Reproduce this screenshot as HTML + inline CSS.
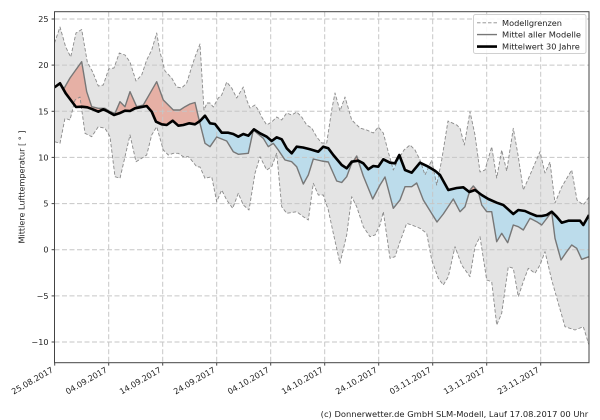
<!DOCTYPE html>
<html><head><meta charset="utf-8"><style>
html,body{margin:0;padding:0;background:#fff;}
svg{display:block;}
text{font-family:"DejaVu Sans","Liberation Sans",sans-serif;fill:#222;}
</style></head><body>
<svg width="600" height="420" viewBox="0 0 600 420" xmlns="http://www.w3.org/2000/svg">
<defs>
<clipPath id="ax"><rect x="54.5" y="11.7" width="534.5" height="351"/></clipPath>
<clipPath id="aboveL"><polygon points="54.5,0 54.5,141.7 60,143.3 65,118.3 70,120 75,100 80,97 85,133.3 91.7,136.7 98.3,126.7 105,128.3 110,136.7 115,176.7 120,178.3 125,156.7 130,135 136,161.7 141.7,158.3 146.7,155 151.7,135 156.7,126.7 163.3,150 168.3,155 173.3,153.3 178.3,153.3 183.3,156.7 188.3,156.7 190,158.3 196.7,166.7 200,167 205,178.3 211.7,176.7 216.7,201.7 221.7,190 226.7,200 232.7,208.3 238.3,193.3 243.3,205 249,210 255,173.3 260,156.7 266.7,170 271.7,166.7 276.7,153.3 281.7,206.7 286.7,213.3 296.7,211.7 303.3,216.7 308.3,220 313.3,183.3 318.3,195 323.3,195 328.3,210 333.3,233.3 340,263.3 346.7,235 351.7,196.7 356.7,206.7 363.3,226.7 370,236.7 375,235 380,225 383.3,211.7 390,258.3 395,256.7 400,241.7 406.7,223.3 411.7,225 420,228.3 426.7,233.3 431.7,260 438.3,278.3 443.3,285 448.3,276.7 455,246.7 461.7,265 470,276.7 475,246.7 480,236.7 486.7,280 491.7,281.7 496.7,325 501.7,313.3 508.3,266.7 513.3,268.3 518.3,296.7 523.3,281.7 528.3,268.3 535,273.3 540,265 545,251.7 551.7,280 558.3,303.3 565,326.7 575,330 583.3,326.7 589,345 589,0"/></clipPath>
<clipPath id="aboveB"><polygon points="54.5,0 54.5,87.3 60,83.3 65.7,93.3 70.7,100 76,107 81.7,106.7 87.3,107.3 92.7,109.3 98.3,111.7 103.3,109.3 108.3,111.7 114,115 119.3,113.3 125,110.7 130,111 135,108.3 140,107.3 146.7,106 151.7,111.7 156,121.7 161.7,124.3 166.7,125 172.7,120.7 178.3,125.7 183.3,125 189.3,123.3 195,124.3 200,121 205,115.7 210,123.3 215,124 221.7,132.7 228.3,132.7 233.3,134 238.3,136.7 243.3,134 248.3,135.7 254,129.3 260,133.3 266.7,136.7 271.7,141 276.7,137.3 281.7,139.3 286.7,148.3 291.7,153.3 296.7,146.7 303,147.5 310,149.3 318.3,151.7 323.3,146.7 328.3,148.3 333.3,155 341.7,165 346.7,168.3 351.7,161.7 358.3,160.7 363.3,163.3 368.3,169.3 373.3,166 378.3,166.7 383.3,159.3 390,162.7 395,163.3 399.3,155 405,170 411.7,172.7 420,162.7 428.3,166.7 435,170.7 440,175 448.3,190 456.7,188 463.3,187.3 469.3,192 475,190 481.7,195 488.3,199 496.7,202.7 503.3,205 507,208.3 513.3,214 518.3,210 525,211 530,213.3 536.7,216 541.7,216 546.7,215 551.7,211.7 556.7,216.7 561.7,222.7 568.3,220.7 575,220.7 580,220.7 583.3,225 589,215 589,0"/></clipPath>
<clipPath id="belowB"><polygon points="54.5,87.3 60,83.3 65.7,93.3 70.7,100 76,107 81.7,106.7 87.3,107.3 92.7,109.3 98.3,111.7 103.3,109.3 108.3,111.7 114,115 119.3,113.3 125,110.7 130,111 135,108.3 140,107.3 146.7,106 151.7,111.7 156,121.7 161.7,124.3 166.7,125 172.7,120.7 178.3,125.7 183.3,125 189.3,123.3 195,124.3 200,121 205,115.7 210,123.3 215,124 221.7,132.7 228.3,132.7 233.3,134 238.3,136.7 243.3,134 248.3,135.7 254,129.3 260,133.3 266.7,136.7 271.7,141 276.7,137.3 281.7,139.3 286.7,148.3 291.7,153.3 296.7,146.7 303,147.5 310,149.3 318.3,151.7 323.3,146.7 328.3,148.3 333.3,155 341.7,165 346.7,168.3 351.7,161.7 358.3,160.7 363.3,163.3 368.3,169.3 373.3,166 378.3,166.7 383.3,159.3 390,162.7 395,163.3 399.3,155 405,170 411.7,172.7 420,162.7 428.3,166.7 435,170.7 440,175 448.3,190 456.7,188 463.3,187.3 469.3,192 475,190 481.7,195 488.3,199 496.7,202.7 503.3,205 507,208.3 513.3,214 518.3,210 525,211 530,213.3 536.7,216 541.7,216 546.7,215 551.7,211.7 556.7,216.7 561.7,222.7 568.3,220.7 575,220.7 580,220.7 583.3,225 589,215 589,420 54.5,420"/></clipPath>
</defs>

<g clip-path="url(#ax)">
  <!-- model range band -->
  <g clip-path="url(#aboveL)">
    <polygon fill="#e4e4e4" points="54.5,43 60,27 65.7,47 70.7,57 76,33 81.7,29.5 87.3,62 92.7,72 98.3,86 103.3,85 108.7,69 114,68 119.3,53 125,55 130,62 136,81 141.7,75 146.7,60 151.7,50 156.7,33 160,52 165,71 171.7,78 176.7,87 181.7,88 186.7,83 191.7,67 195,57 200,44 204,110 207,103 210,103 213.3,107 218.3,98 221.7,95 226.7,82 231.7,88 236.7,98 243.3,87 246.7,100 250,108 255,105 258.3,110 261.7,117 266.7,125 271.7,122 276.7,117 281.7,120 286.7,113 291.7,115 296.7,112 301.7,117 306.7,125 311.7,128 316.7,137 321.7,143 326.7,143 331.7,110 335,93 340,111 345,97 351.7,120 360,128 366.7,130 373.3,133 378.3,127 383.3,133 388.3,152 393.3,170 398,160 404,150 410,145 415,150 420,160 425,175 431.7,160 436.7,185 441.7,160 448,121 456.7,125 460,128 464.3,145 470,111.7 475,135 480,172 485,170 491.7,146.7 496.7,178 501.7,150 506.7,171 513.3,128.3 518.3,156.7 523.3,190 530,175 540,151.7 545,173 550,162 555,203 561.7,187 571.7,170 577,200 583.3,205 589,197 589,420 54.5,420"/>
  </g>
  <!-- red: mean above 30yr -->
  <g clip-path="url(#aboveB)">
    <polygon fill="rgb(235,80,50)" fill-opacity="0.35" points="54.5,87.3 60,83.8 64,88.5 70,78 75,71 81.7,61.7 86.7,91.7 91.7,106.7 98.3,108.3 105,108.3 110,111.7 115,113.3 120,101.7 125,106.7 130,91.7 136.7,106.7 143.3,105 150,93.3 156.7,81.7 163.3,100 168.3,105 173.3,110 180,110 185,106.7 190,104 195,102.5 198.3,116.7 205,143.3 210,146.7 216.7,137 226.7,141 233.3,151.7 238.3,154.3 248.3,153.3 253.3,130 258,134 263.3,138.3 268.3,146.7 273.3,143.3 278.3,150 285,160 291.7,161.7 296.7,166.7 303.3,184 308.3,175 313.3,159 321.7,161 328.3,162 336.7,181 341.7,182.5 346.7,176.7 351,165 356.7,156 363.3,176 372.7,199 380,185 385,177 393.3,208.3 400,200 405,186.7 411.7,186.7 416.7,183 423.3,200 437,222 443.3,214 453.3,199 460,211.7 465,206.7 470,190 473.3,186 478.3,191.7 481.7,205 486.7,211.7 491.7,211.7 496.7,241.7 501.7,233.3 507.7,242.7 513.3,225 518.3,226.7 523.3,230 530,218.3 536.7,221.7 541.7,225 551.7,212 555,238.3 561,260 566.7,251.7 571.7,245 576.7,248.3 581.7,259.3 589,256.7 589,420 54.5,420"/>
  </g>
  <!-- blue: mean below 30yr -->
  <g clip-path="url(#belowB)">
    <polygon fill="rgb(114,206,249)" fill-opacity="0.35" points="54.5,0 54.5,87.3 60,83.8 64,88.5 70,78 75,71 81.7,61.7 86.7,91.7 91.7,106.7 98.3,108.3 105,108.3 110,111.7 115,113.3 120,101.7 125,106.7 130,91.7 136.7,106.7 143.3,105 150,93.3 156.7,81.7 163.3,100 168.3,105 173.3,110 180,110 185,106.7 190,104 195,102.5 198.3,116.7 205,143.3 210,146.7 216.7,137 226.7,141 233.3,151.7 238.3,154.3 248.3,153.3 253.3,130 258,134 263.3,138.3 268.3,146.7 273.3,143.3 278.3,150 285,160 291.7,161.7 296.7,166.7 303.3,184 308.3,175 313.3,159 321.7,161 328.3,162 336.7,181 341.7,182.5 346.7,176.7 351,165 356.7,156 363.3,176 372.7,199 380,185 385,177 393.3,208.3 400,200 405,186.7 411.7,186.7 416.7,183 423.3,200 437,222 443.3,214 453.3,199 460,211.7 465,206.7 470,190 473.3,186 478.3,191.7 481.7,205 486.7,211.7 491.7,211.7 496.7,241.7 501.7,233.3 507.7,242.7 513.3,225 518.3,226.7 523.3,230 530,218.3 536.7,221.7 541.7,225 551.7,212 555,238.3 561,260 566.7,251.7 571.7,245 576.7,248.3 581.7,259.3 589,256.7 589,0"/>
  </g>

  <!-- grid -->
  <g stroke="#c6c6c6" stroke-width="1" stroke-dasharray="5,2.5" fill="none">
    <line x1="54.5" y1="19" x2="589" y2="19"/>
    <line x1="54.5" y1="65.1" x2="589" y2="65.1"/>
    <line x1="54.5" y1="111.3" x2="589" y2="111.3"/>
    <line x1="54.5" y1="157.4" x2="589" y2="157.4"/>
    <line x1="54.5" y1="203.6" x2="589" y2="203.6"/>
    <line x1="54.5" y1="249.7" x2="589" y2="249.7"/>
    <line x1="54.5" y1="295.9" x2="589" y2="295.9"/>
    <line x1="54.5" y1="342" x2="589" y2="342"/>
    <line x1="108.7" y1="11.7" x2="108.7" y2="362.7"/>
    <line x1="162.7" y1="11.7" x2="162.7" y2="362.7"/>
    <line x1="216.7" y1="11.7" x2="216.7" y2="362.7"/>
    <line x1="270.7" y1="11.7" x2="270.7" y2="362.7"/>
    <line x1="324.7" y1="11.7" x2="324.7" y2="362.7"/>
    <line x1="378.7" y1="11.7" x2="378.7" y2="362.7"/>
    <line x1="432.7" y1="11.7" x2="432.7" y2="362.7"/>
    <line x1="486.7" y1="11.7" x2="486.7" y2="362.7"/>
    <line x1="540.7" y1="11.7" x2="540.7" y2="362.7"/>
  </g>

  <!-- bounds -->
  <g fill="none" stroke="#8a8a8a" stroke-width="0.9" stroke-dasharray="3.5,2" stroke-linejoin="round">
    <polyline points="54.5,43 60,27 65.7,47 70.7,57 76,33 81.7,29.5 87.3,62 92.7,72 98.3,86 103.3,85 108.7,69 114,68 119.3,53 125,55 130,62 136,81 141.7,75 146.7,60 151.7,50 156.7,33 160,52 165,71 171.7,78 176.7,87 181.7,88 186.7,83 191.7,67 195,57 200,44 204,110 207,103 210,103 213.3,107 218.3,98 221.7,95 226.7,82 231.7,88 236.7,98 243.3,87 246.7,100 250,108 255,105 258.3,110 261.7,117 266.7,125 271.7,122 276.7,117 281.7,120 286.7,113 291.7,115 296.7,112 301.7,117 306.7,125 311.7,128 316.7,137 321.7,143 326.7,143 331.7,110 335,93 340,111 345,97 351.7,120 360,128 366.7,130 373.3,133 378.3,127 383.3,133 388.3,152 393.3,170 398,160 404,150 410,145 415,150 420,160 425,175 431.7,160 436.7,185 441.7,160 448,121 456.7,125 460,128 464.3,145 470,111.7 475,135 480,172 485,170 491.7,146.7 496.7,178 501.7,150 506.7,171 513.3,128.3 518.3,156.7 523.3,190 530,175 540,151.7 545,173 550,162 555,203 561.7,187 571.7,170 577,200 583.3,205 589,197"/>
    <polyline points="54.5,141.7 60,143.3 65,118.3 70,120 75,100 80,97 85,133.3 91.7,136.7 98.3,126.7 105,128.3 110,136.7 115,176.7 120,178.3 125,156.7 130,135 136,161.7 141.7,158.3 146.7,155 151.7,135 156.7,126.7 163.3,150 168.3,155 173.3,153.3 178.3,153.3 183.3,156.7 188.3,156.7 190,158.3 196.7,166.7 200,167 205,178.3 211.7,176.7 216.7,201.7 221.7,190 226.7,200 232.7,208.3 238.3,193.3 243.3,205 249,210 255,173.3 260,156.7 266.7,170 271.7,166.7 276.7,153.3 281.7,206.7 286.7,213.3 296.7,211.7 303.3,216.7 308.3,220 313.3,183.3 318.3,195 323.3,195 328.3,210 333.3,233.3 340,263.3 346.7,235 351.7,196.7 356.7,206.7 363.3,226.7 370,236.7 375,235 380,225 383.3,211.7 390,258.3 395,256.7 400,241.7 406.7,223.3 411.7,225 420,228.3 426.7,233.3 431.7,260 438.3,278.3 443.3,285 448.3,276.7 455,246.7 461.7,265 470,276.7 475,246.7 480,236.7 486.7,280 491.7,281.7 496.7,325 501.7,313.3 508.3,266.7 513.3,268.3 518.3,296.7 523.3,281.7 528.3,268.3 535,273.3 540,265 545,251.7 551.7,280 558.3,303.3 565,326.7 575,330 583.3,326.7 589,345"/>
  </g>
  <!-- mean of models -->
  <polyline fill="none" stroke="#777" stroke-width="1.4" stroke-linejoin="round" points="54.5,87.3 60,83.8 64,88.5 70,78 75,71 81.7,61.7 86.7,91.7 91.7,106.7 98.3,108.3 105,108.3 110,111.7 115,113.3 120,101.7 125,106.7 130,91.7 136.7,106.7 143.3,105 150,93.3 156.7,81.7 163.3,100 168.3,105 173.3,110 180,110 185,106.7 190,104 195,102.5 198.3,116.7 205,143.3 210,146.7 216.7,137 226.7,141 233.3,151.7 238.3,154.3 248.3,153.3 253.3,130 258,134 263.3,138.3 268.3,146.7 273.3,143.3 278.3,150 285,160 291.7,161.7 296.7,166.7 303.3,184 308.3,175 313.3,159 321.7,161 328.3,162 336.7,181 341.7,182.5 346.7,176.7 351,165 356.7,156 363.3,176 372.7,199 380,185 385,177 393.3,208.3 400,200 405,186.7 411.7,186.7 416.7,183 423.3,200 437,222 443.3,214 453.3,199 460,211.7 465,206.7 470,190 473.3,186 478.3,191.7 481.7,205 486.7,211.7 491.7,211.7 496.7,241.7 501.7,233.3 507.7,242.7 513.3,225 518.3,226.7 523.3,230 530,218.3 536.7,221.7 541.7,225 551.7,212 555,238.3 561,260 566.7,251.7 571.7,245 576.7,248.3 581.7,259.3 589,256.7"/>
  <!-- 30 year mean -->
  <polyline fill="none" stroke="#000" stroke-width="2.6" stroke-linejoin="round" points="54.5,87.3 60,83.3 65.7,93.3 70.7,100 76,107 81.7,106.7 87.3,107.3 92.7,109.3 98.3,111.7 103.3,109.3 108.3,111.7 114,115 119.3,113.3 125,110.7 130,111 135,108.3 140,107.3 146.7,106 151.7,111.7 156,121.7 161.7,124.3 166.7,125 172.7,120.7 178.3,125.7 183.3,125 189.3,123.3 195,124.3 200,121 205,115.7 210,123.3 215,124 221.7,132.7 228.3,132.7 233.3,134 238.3,136.7 243.3,134 248.3,135.7 254,129.3 260,133.3 266.7,136.7 271.7,141 276.7,137.3 281.7,139.3 286.7,148.3 291.7,153.3 296.7,146.7 303,147.5 310,149.3 318.3,151.7 323.3,146.7 328.3,148.3 333.3,155 341.7,165 346.7,168.3 351.7,161.7 358.3,160.7 363.3,163.3 368.3,169.3 373.3,166 378.3,166.7 383.3,159.3 390,162.7 395,163.3 399.3,155 405,170 411.7,172.7 420,162.7 428.3,166.7 435,170.7 440,175 448.3,190 456.7,188 463.3,187.3 469.3,192 475,190 481.7,195 488.3,199 496.7,202.7 503.3,205 507,208.3 513.3,214 518.3,210 525,211 530,213.3 536.7,216 541.7,216 546.7,215 551.7,211.7 556.7,216.7 561.7,222.7 568.3,220.7 575,220.7 580,220.7 583.3,225 589,215"/>
</g>

<!-- spines -->
<rect x="54.5" y="11.7" width="534.5" height="351" fill="none" stroke="#444" stroke-width="1"/>

<!-- ticks -->
<g stroke="#444" stroke-width="1">
  <line x1="51.6" y1="19" x2="54.5" y2="19"/>
  <line x1="51.6" y1="65.1" x2="54.5" y2="65.1"/>
  <line x1="51.6" y1="111.3" x2="54.5" y2="111.3"/>
  <line x1="51.6" y1="157.4" x2="54.5" y2="157.4"/>
  <line x1="51.6" y1="203.6" x2="54.5" y2="203.6"/>
  <line x1="51.6" y1="249.7" x2="54.5" y2="249.7"/>
  <line x1="51.6" y1="295.9" x2="54.5" y2="295.9"/>
  <line x1="51.6" y1="342" x2="54.5" y2="342"/>
  <line x1="54.7" y1="362.7" x2="54.7" y2="365.6"/>
  <line x1="108.7" y1="362.7" x2="108.7" y2="365.6"/>
  <line x1="162.7" y1="362.7" x2="162.7" y2="365.6"/>
  <line x1="216.7" y1="362.7" x2="216.7" y2="365.6"/>
  <line x1="270.7" y1="362.7" x2="270.7" y2="365.6"/>
  <line x1="324.7" y1="362.7" x2="324.7" y2="365.6"/>
  <line x1="378.7" y1="362.7" x2="378.7" y2="365.6"/>
  <line x1="432.7" y1="362.7" x2="432.7" y2="365.6"/>
  <line x1="486.7" y1="362.7" x2="486.7" y2="365.6"/>
  <line x1="540.7" y1="362.7" x2="540.7" y2="365.6"/>
</g>

<!-- y tick labels -->
<g font-size="8.1" text-anchor="end">
  <text x="48.5" y="22">25</text>
  <text x="48.5" y="68.1">20</text>
  <text x="48.5" y="114.3">15</text>
  <text x="48.5" y="160.4">10</text>
  <text x="48.5" y="206.6">5</text>
  <text x="48.5" y="252.7">0</text>
  <text x="48.5" y="298.9">−5</text>
  <text x="48.5" y="345">−10</text>
</g>

<!-- x tick labels -->
<g font-size="8.1" text-anchor="end">
  <text transform="translate(53.8,371.5) rotate(-30)">25.08.2017</text>
  <text transform="translate(107.8,371.5) rotate(-30)">04.09.2017</text>
  <text transform="translate(161.8,371.5) rotate(-30)">14.09.2017</text>
  <text transform="translate(215.8,371.5) rotate(-30)">24.09.2017</text>
  <text transform="translate(269.8,371.5) rotate(-30)">04.10.2017</text>
  <text transform="translate(323.8,371.5) rotate(-30)">14.10.2017</text>
  <text transform="translate(377.8,371.5) rotate(-30)">24.10.2017</text>
  <text transform="translate(431.8,371.5) rotate(-30)">03.11.2017</text>
  <text transform="translate(485.8,371.5) rotate(-30)">13.11.2017</text>
  <text transform="translate(539.8,371.5) rotate(-30)">23.11.2017</text>
</g>

<!-- y axis label -->
<text font-size="8.3" text-anchor="middle" transform="translate(24.6,187) rotate(-90)" textLength="113" lengthAdjust="spacingAndGlyphs">Mittlere Lufttemperatur [ ° ]</text>

<!-- legend -->
<rect x="473.5" y="14.5" width="112.5" height="39" rx="2" ry="2" fill="#fff" fill-opacity="0.85" stroke="#d0d0d0" stroke-width="1"/>
<line x1="477" y1="22.8" x2="497" y2="22.8" stroke="#8a8a8a" stroke-width="0.9" stroke-dasharray="3.5,2"/>
<line x1="477" y1="34.6" x2="497" y2="34.6" stroke="#777" stroke-width="1.4"/>
<line x1="477" y1="46.6" x2="497" y2="46.6" stroke="#000" stroke-width="2.6"/>
<g font-size="8.2">
  <text x="502" y="25.8">Modellgrenzen</text>
  <text x="502" y="37.6" textLength="79" lengthAdjust="spacingAndGlyphs">Mittel aller Modelle</text>
  <text x="502" y="49.6">Mittelwert 30 Jahre</text>
</g>

<!-- footer -->
<text x="320.7" y="417" font-size="8.2" textLength="267.5" lengthAdjust="spacingAndGlyphs">(c) Donnerwetter.de GmbH SLM-Modell, Lauf 17.08.2017 00 Uhr</text>
</svg>
</body></html>
